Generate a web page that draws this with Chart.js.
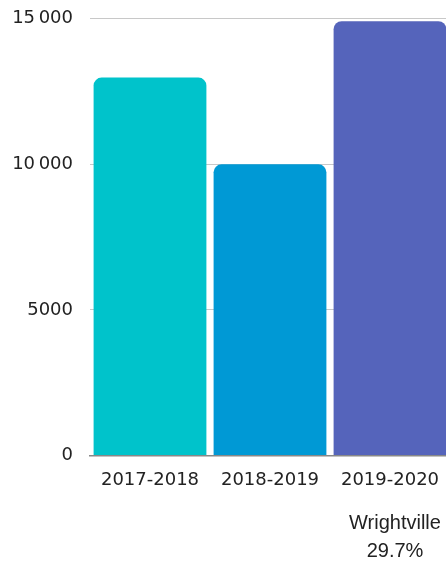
<!DOCTYPE html>
<html>
<head>
<meta charset="utf-8">
<script src="https://cdn.jsdelivr.net/npm/chart.js@4/dist/chart.umd.min.js"></script>
<style>
  html, body { margin: 0; padding: 0; background: #fff; overflow: hidden; }
  #wrap { width: 450px; height: 572px; position: relative; top: -9px; }
</style>
</head>
<body>
<div id="wrap"><canvas id="chart"></canvas></div>
<script>
// chart data
const seasons = ["2017-2018", "2018-2019", "2019-2020"];
const counts = [12980, 10000, 14920];
const barColors = ["#00c3cb", "#0099d5", "#5564bb"];
const yTicks = [0, 5000, 10000, 15000];
const noteLines = ["Wrightville", "29.7%"];

// thousands separator like "15 000", but plain "5000"
function fmtTick(v) {
  if (v < 10000) return String(v);
  return String(v).replace(/\B(?=(\d{3})+(?!\d))/g, "\u202f");
}

// text under the last category
const notePlugin = {
  id: "note",
  afterDraw(chart) {
    const ctx = chart.ctx;
    const x = chart.scales.x.getPixelForValue(seasons.length - 1) + 5;
    ctx.save();
    ctx.font = "20px 'Liberation Sans', Arial, sans-serif";
    ctx.fillStyle = "#222";
    ctx.textAlign = "center";
    ctx.textBaseline = "middle";
    ctx.fillText(noteLines[0], x, 532);
    ctx.fillText(noteLines[1], x, 560);
    ctx.restore();
  },
};

new Chart(document.getElementById("chart"), {
  type: "bar",
  data: {
    labels: seasons,
    datasets: [
      {
        data: counts,
        backgroundColor: barColors,
        borderRadius: { topLeft: 8, topRight: 8 },
        borderSkipped: "bottom",
        barPercentage: 0.94,
        categoryPercentage: 1,
      },
    ],
  },
  options: {
    responsive: true,
    maintainAspectRatio: false,
    animation: false,
    layout: { padding: { top: 0, right: 0, bottom: 66, left: 0 } },
    plugins: {
      legend: { display: false },
      tooltip: { enabled: false },
    },
    scales: {
      x: {
        grid: { display: false },
        border: { color: "#888", width: 1.5 },
        ticks: {
          color: "#222",
          font: { family: "'DejaVu Sans'", size: 18 },
          padding: 6,
        },
      },
      y: {
        min: 0,
        max: 15000,
        afterFit: (s) => { s.width = 90; },
        afterBuildTicks: (s) => { s.ticks = yTicks.map((v) => ({ value: v })); },
        grid: { color: "#c8c8c8", drawTicks: false },
        border: { display: false },
        ticks: {
          color: "#222",
          font: { family: "'DejaVu Sans'", size: 18 },
          padding: 17,
          callback: (v) => fmtTick(v),
        },
      },
    },
  },
  plugins: [notePlugin],
});
</script>
</body>
</html>
